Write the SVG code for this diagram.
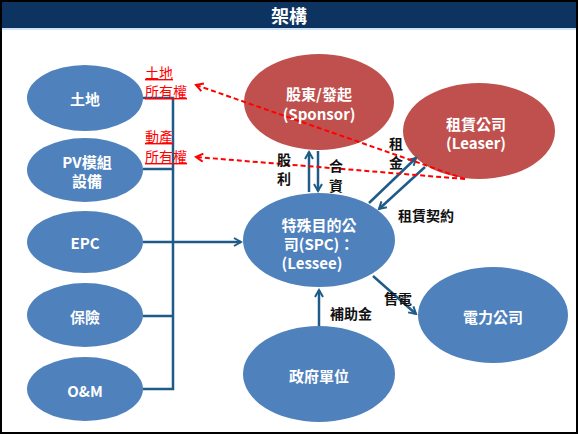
<svg xmlns="http://www.w3.org/2000/svg" width="578" height="434" viewBox="0 0 578 434">
<style>
.b{fill:#4f81bd}
.r{fill:#c0504d}
.t{font-family:"Noto Sans CJK TC","Liberation Sans",sans-serif;font-size:15px;font-weight:bold;fill:#fff;text-anchor:middle;dominant-baseline:central}
.l{font-family:"Noto Sans CJK TC","Liberation Sans",sans-serif;font-size:14px;font-weight:bold;fill:#111;text-anchor:middle;dominant-baseline:central}
.rl{font-family:"Noto Sans CJK TC","Liberation Sans",sans-serif;font-size:14px;fill:#ff0000;text-decoration:underline}
.c{stroke:#1f5b88;stroke-width:2.5;fill:none}
.d{stroke:#ff0000;stroke-width:2;stroke-dasharray:5,3;fill:none}
</style>
<defs>
<marker id="a" markerWidth="10" markerHeight="10" refX="8" refY="5" orient="auto" markerUnits="userSpaceOnUse">
<path d="M1,1 L8,5 L1,9" fill="none" stroke="#1f5b88" stroke-width="2"/>
</marker>
<marker id="ar" markerWidth="10" markerHeight="10" refX="8" refY="5" orient="auto" markerUnits="userSpaceOnUse">
<path d="M1,1 L8,5 L1,9" fill="none" stroke="#ff0000" stroke-width="2"/>
</marker>
</defs>
<rect x="0" y="0" width="578" height="434" fill="#fff"/>
<rect x="0" y="0" width="578" height="28" fill="#0d3360"/>
<rect x="0" y="28" width="578" height="2" fill="#cfe3f7"/>
<text x="289" y="15" font-family="'Noto Sans CJK TC',sans-serif" font-size="18" font-weight="bold" fill="#fff" text-anchor="middle" dominant-baseline="central">架構</text>

<g id="n-land"><ellipse class="b" cx="85" cy="98" rx="58" ry="33"/><text class="t" x="85" y="98">土地</text></g>
<g id="n-pv"><ellipse class="b" cx="85" cy="170" rx="58" ry="32"/><text class="t" x="87" y="161">PV模組</text><text class="t" x="87" y="180">設備</text></g>
<g id="n-epc"><ellipse class="b" cx="85" cy="242" rx="58" ry="31"/><text class="t" x="85" y="242">EPC</text></g>
<g id="n-ins"><ellipse class="b" cx="85" cy="315" rx="58" ry="32"/><text class="t" x="85" y="316">保險</text></g>
<g id="n-om"><ellipse class="b" cx="85" cy="389" rx="58" ry="32"/><text class="t" x="85" y="390">O&amp;M</text></g>
<g id="n-sponsor"><ellipse class="r" cx="319" cy="102" rx="75" ry="48"/><text class="t" x="319" y="93">股東/發起</text><text class="t" x="319" y="113">(Sponsor)</text></g>
<g id="n-leaser"><ellipse class="r" cx="479" cy="131" rx="76" ry="48"/><text class="t" x="476" y="123">租賃公司</text><text class="t" x="476" y="142">(Leaser)</text></g>
<g id="n-spc"><ellipse class="b" cx="319" cy="240" rx="76" ry="47"/><text class="t" x="319" y="224">特殊目的公</text><text class="t" x="319" y="243">司(SPC)：</text><text class="t" x="312" y="262">(Lessee)</text></g>
<g id="n-power"><ellipse class="b" cx="493" cy="315" rx="75" ry="48"/><text class="t" x="493" y="316">電力公司</text></g>
<g id="n-gov"><ellipse class="b" cx="319" cy="374" rx="76" ry="48"/><text class="t" x="319" y="375">政府單位</text></g>

<g id="connectors">
<path class="c" d="M143,98 H173 V389 H143 M143,169 H173 M143,316 H173"/>
<path class="c" d="M143,242 H241" marker-end="url(#a)"/>
<path class="c" d="M309,192 V152" marker-end="url(#a)"/>
<path class="c" d="M318,151 V191" marker-end="url(#a)"/>
<path class="c" d="M369,203 L416,158" marker-end="url(#a)"/>
<path class="c" d="M425,167 L379,209" marker-end="url(#a)"/>
<path class="c" d="M373,276 L416,314" marker-end="url(#a)"/>
<path class="c" d="M319,326 V290" marker-end="url(#a)"/>
<path class="d" d="M465,179 L196,85" marker-end="url(#ar)"/>
<path class="d" d="M465,179 L196,157" marker-end="url(#ar)"/>
</g>

<g id="labels">
<text class="l" x="284" y="159">股</text>
<text class="l" x="284" y="178">利</text>
<text class="l" x="336" y="165">合</text>
<text class="l" x="336" y="185">資</text>
<text class="l" x="396" y="143">租</text>
<text class="l" x="396" y="162">金</text>
<text class="l" x="426" y="215">租賃契約</text>
<text class="l" x="398" y="298">售電</text>
<text class="l" x="351" y="313">補助金</text>
<text class="rl" x="145" y="78">土地</text>
<text class="rl" x="145" y="97">所有權</text>
<text class="rl" x="145" y="142">動產</text>
<text class="rl" x="145" y="162">所有權</text>
</g>
<rect x="1" y="1" width="576" height="432" fill="none" stroke="#000" stroke-width="2"/>
</svg>
